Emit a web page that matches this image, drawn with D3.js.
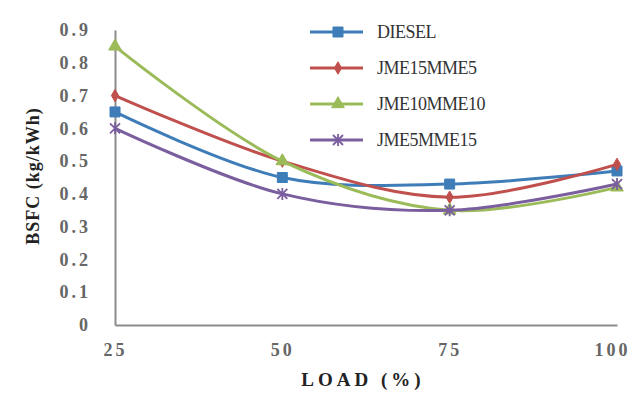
<!DOCTYPE html>
<html><head><meta charset="utf-8">
<script src="https://cdn.jsdelivr.net/npm/d3@7"></script>
<style>body{margin:0;background:#fff}svg{display:block}</style>
</head><body>
<svg id="c" width="633" height="396"></svg>
<script>
const loads = [25, 50, 75, 100];
const seriesNames = ["DIESEL", "JME15MME5", "JME10MME10", "JME5MME15"];
const diesel = [0.65, 0.45, 0.43, 0.47];
const jme15mme5 = [0.70, 0.50, 0.39, 0.49];
const jme10mme10 = [0.85, 0.50, 0.35, 0.42];
const jme5mme15 = [0.60, 0.40, 0.35, 0.43];
const yTicks = [0, 0.1, 0.2, 0.3, 0.4, 0.5, 0.6, 0.7, 0.8, 0.9];
const xTickLabels = ["25", "50", "75", "100"];

const seriesValues = [diesel, jme15mme5, jme10mme10, jme5mme15];
const colors = ["#3F7DB8", "#C0504D", "#9BBB59", "#7A5E9E"];
const markers = ["square", "diamond", "triangle", "star"];

const svg = d3.select("#c");
const x = d3.scaleLinear().domain([25, 100]).range([115, 617]);
const y = d3.scaleLinear().domain([0, 0.9]).range([325, 30]);
const serif = "'Liberation Serif','Times New Roman',serif";

// axes
const gx = svg.append("g").attr("transform", "translate(0,325)")
  .call(d3.axisBottom(x).tickValues(loads).tickSize(0).tickPadding(18).tickFormat((d,i)=>xTickLabels[i]));
const gy = svg.append("g").attr("transform", "translate(115,0)")
  .call(d3.axisLeft(y).tickValues(yTicks).tickSize(0).tickPadding(24).tickFormat(d => d === 0 ? "0" : d3.format(".1f")(d)));
[gx, gy].forEach(g => {
  g.select(".domain").attr("stroke", "#8c8c8c").attr("stroke-width", 2);
  g.selectAll("text").attr("font-family", serif).attr("font-size", 18).attr("font-weight", "bold")
    .attr("fill", "#666").attr("letter-spacing", "3px");
});
gx.selectAll(".tick text").filter((d) => d === 100).attr("dx", "-5");

// lines
const line = d3.line().x((d,i)=>x(loads[i])).y(d=>y(d)).curve(d3.curveCatmullRom.alpha(0.5));
const sym = {
  square: d3.symbol(d3.symbolSquare, 100),
  diamond: d3.symbol(d3.symbolDiamond, 45),
  triangle: d3.symbol(d3.symbolTriangle, 70)
};
function drawMarker(g, type, color, cx, cy) {
  if (type === "star") {
    const r = 5;
    g.append("path").attr("d", `M${-r},${-r}L${r},${r}M${-r},${r}L${r},${-r}M0,${-r-1}L0,${r+1}`)
      .attr("transform", `translate(${cx},${cy})`).attr("fill", "none").attr("stroke", color).attr("stroke-width", 1.8);
    return;
  }
  g.append("path").attr("d", sym[type]()).attr("transform", `translate(${cx},${cy})`)
    .attr("fill", color).attr("stroke", color).attr("stroke-width", 1);
}
seriesValues.forEach((vals, s) => {
  const g = svg.append("g");
  g.append("path").attr("d", line(vals)).attr("fill", "none").attr("stroke", colors[s]).attr("stroke-width", 3);
  vals.forEach((v, i) => drawMarker(g, markers[s], colors[s], x(loads[i]), y(v)));
});

// legend
const legendY = [32, 68, 104, 140];
seriesNames.forEach((name, s) => {
  const g = svg.append("g");
  g.append("line").attr("x1", 310).attr("x2", 363).attr("y1", legendY[s]).attr("y2", legendY[s])
    .attr("stroke", colors[s]).attr("stroke-width", 3);
  drawMarker(g, markers[s], colors[s], 338, legendY[s]);
  g.append("text").attr("x", 377).attr("y", legendY[s]).attr("dy", "0.35em")
    .attr("font-family", serif).attr("font-size", 18).attr("fill", "#333").attr("letter-spacing", "-0.5px")
    .text(name);
});

// axis titles
svg.append("text").attr("x", 363).attr("y", 386).attr("text-anchor", "middle")
  .attr("font-family", serif).attr("font-size", 19).attr("font-weight", "bold").attr("fill", "#222")
  .attr("letter-spacing", "4px").text("LOAD  (%)");
svg.append("text").attr("transform", "translate(39,176) rotate(-90)").attr("text-anchor", "middle")
  .attr("font-family", serif).attr("font-size", 18).attr("font-weight", "bold").attr("fill", "#222")
  .attr("letter-spacing", "1px").text("BSFC (kg/kWh)");
</script>
</body></html>
